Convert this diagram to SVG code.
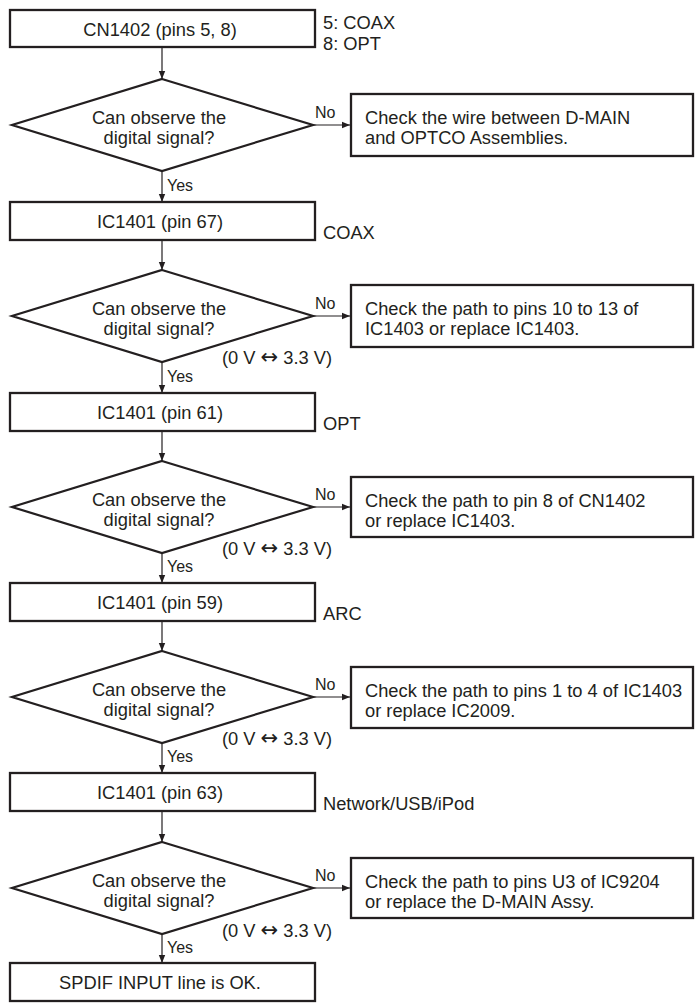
<svg xmlns="http://www.w3.org/2000/svg" width="696" height="1004" viewBox="0 0 696 1004">
<style>
  text { font-family: "Liberation Sans", Arial, sans-serif; fill: #231f20; }
  .t { font-size: 18.3px; }
  .c { text-anchor: middle; }
  .s { font-size: 16px; }
  .ar { font-family: "DejaVu Sans", sans-serif; font-size: 21px; }
  .box { fill: #fff; stroke: #231f20; stroke-width: 2.3; }
  .dia { fill: #fff; stroke: #231f20; stroke-width: 2.2; stroke-linejoin: miter; }
  .con { stroke: #231f20; stroke-width: 1.2; fill: none; marker-end: url(#arr); }
</style>
<defs>
  <marker id="arr" markerUnits="userSpaceOnUse" markerWidth="9" markerHeight="8" refX="8" refY="4" orient="auto">
    <path d="M0,0.8 L8,4 L0,7.2 Z" fill="#231f20"/>
  </marker>
</defs>
<rect width="696" height="1004" fill="#fff"/>

<g id="connectors">
  <line class="con" x1="162" y1="47" x2="162" y2="79"/>
  <line class="con" x1="162" y1="171" x2="162" y2="202"/>
  <line class="con" x1="162" y1="240" x2="162" y2="270"/>
  <line class="con" x1="162" y1="362" x2="162" y2="393"/>
  <line class="con" x1="162" y1="431" x2="162" y2="461"/>
  <line class="con" x1="162" y1="553" x2="162" y2="583"/>
  <line class="con" x1="162" y1="621" x2="162" y2="651"/>
  <line class="con" x1="162" y1="743" x2="162" y2="773"/>
  <line class="con" x1="162" y1="811" x2="162" y2="842"/>
  <line class="con" x1="162" y1="934" x2="162" y2="963"/>
  <line class="con" x1="313" y1="125" x2="350" y2="125"/>
  <line class="con" x1="313" y1="316" x2="350" y2="316"/>
  <line class="con" x1="313" y1="507" x2="350" y2="507"/>
  <line class="con" x1="313" y1="697" x2="350" y2="697"/>
  <line class="con" x1="313" y1="888" x2="350" y2="888"/>
  <text class="s" x="315" y="118">No</text>
  <text class="s" x="315" y="309">No</text>
  <text class="s" x="315" y="500">No</text>
  <text class="s" x="315" y="690">No</text>
  <text class="s" x="315" y="881">No</text>
  <text class="s" x="167" y="191">Yes</text>
  <text class="s" x="167" y="382">Yes</text>
  <text class="s" x="167" y="572">Yes</text>
  <text class="s" x="167" y="762">Yes</text>
  <text class="s" x="167" y="953">Yes</text>
</g>

<g id="n1">
  <rect class="box" x="10" y="10" width="305" height="37"/>
  <text class="t c" x="160" y="36">CN1402 (pins 5, 8)</text>
  <text class="t" x="323" y="29">5: COAX</text>
  <text class="t" x="323" y="50">8: OPT</text>
</g>
<g id="d1">
  <polygon class="dia" points="162,79 313,125 162,171 12,125"/>
  <text class="t c" x="159" y="124">Can observe the</text>
  <text class="t c" x="159" y="144">digital signal?</text>
</g>
<g id="e1">
  <rect class="box" x="351" y="94" width="342" height="62"/>
  <text class="t" x="365" y="124">Check the wire between D-MAIN</text>
  <text class="t" x="365" y="144">and OPTCO Assemblies.</text>
</g>

<g id="n2">
  <rect class="box" x="10" y="202" width="305" height="38"/>
  <text class="t c" x="160" y="228">IC1401 (pin 67)</text>
  <text class="t" x="323" y="239">COAX</text>
</g>
<g id="d2">
  <polygon class="dia" points="162,270 313,316 162,362 12,316"/>
  <text class="t c" x="159" y="315">Can observe the</text>
  <text class="t c" x="159" y="335">digital signal?</text>
  <text class="t" x="222" y="364">(0 V <tspan class="ar">↔</tspan> 3.3 V)</text>
</g>
<g id="e2">
  <rect class="box" x="351" y="285" width="342" height="62"/>
  <text class="t" x="365" y="315">Check the path to pins 10 to 13 of</text>
  <text class="t" x="365" y="335">IC1403 or replace IC1403.</text>
</g>

<g id="n3">
  <rect class="box" x="10" y="393" width="305" height="38"/>
  <text class="t c" x="160" y="419">IC1401 (pin 61)</text>
  <text class="t" x="323" y="430">OPT</text>
</g>
<g id="d3">
  <polygon class="dia" points="162,461 313,507 162,553 12,507"/>
  <text class="t c" x="159" y="506">Can observe the</text>
  <text class="t c" x="159" y="526">digital signal?</text>
  <text class="t" x="222" y="555">(0 V <tspan class="ar">↔</tspan> 3.3 V)</text>
</g>
<g id="e3">
  <rect class="box" x="351" y="477" width="342" height="60"/>
  <text class="t" x="365" y="507">Check the path to pin 8 of CN1402</text>
  <text class="t" x="365" y="527">or replace IC1403.</text>
</g>

<g id="n4">
  <rect class="box" x="10" y="583" width="305" height="38"/>
  <text class="t c" x="160" y="609">IC1401 (pin 59)</text>
  <text class="t" x="323" y="620">ARC</text>
</g>
<g id="d4">
  <polygon class="dia" points="162,651 313,697 162,743 12,697"/>
  <text class="t c" x="159" y="696">Can observe the</text>
  <text class="t c" x="159" y="716">digital signal?</text>
  <text class="t" x="222" y="745">(0 V <tspan class="ar">↔</tspan> 3.3 V)</text>
</g>
<g id="e4">
  <rect class="box" x="351" y="667" width="342" height="61"/>
  <text class="t" x="365" y="697">Check the path to pins 1 to 4 of IC1403</text>
  <text class="t" x="365" y="717">or replace IC2009.</text>
</g>

<g id="n5">
  <rect class="box" x="10" y="773" width="305" height="38"/>
  <text class="t c" x="160" y="799">IC1401 (pin 63)</text>
  <text class="t" x="323" y="810">Network/USB/iPod</text>
</g>
<g id="d5">
  <polygon class="dia" points="162,842 313,888 162,934 12,888"/>
  <text class="t c" x="159" y="887">Can observe the</text>
  <text class="t c" x="159" y="907">digital signal?</text>
  <text class="t" x="222" y="937">(0 V <tspan class="ar">↔</tspan> 3.3 V)</text>
</g>
<g id="e5">
  <rect class="box" x="351" y="858" width="342" height="60"/>
  <text class="t" x="365" y="888">Check the path to pins U3 of IC9204</text>
  <text class="t" x="365" y="908">or replace the D-MAIN Assy.</text>
</g>

<g id="n6">
  <rect class="box" x="10" y="963" width="305" height="38"/>
  <text class="t c" x="160" y="989">SPDIF INPUT line is OK.</text>
</g>
</svg>
